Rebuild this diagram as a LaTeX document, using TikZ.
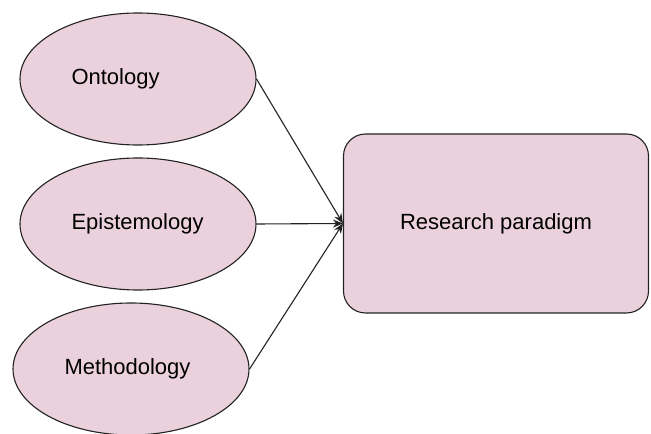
\documentclass[tikz,border=0pt]{standalone}
\usepackage{fontspec}
\setmainfont{Liberation Sans}
\usepackage{xcolor}
\definecolor{cp}{HTML}{EAD1DC}
\definecolor{ck}{HTML}{222222}
\usepackage{tikz}
\usetikzlibrary{arrows.meta,positioning,shapes.geometric}

\begin{document}
\begin{tikzpicture}[
  x=1pt, y=1pt, >={Stealth[length=10pt,width=8pt]}, line width=1.1pt,
  concept/.style={ellipse, draw=ck, fill=cp, minimum width=236pt, minimum height=132pt,
    text width=133pt, align=left, font=\fontsize{22}{26}\selectfont},
  outcome/.style={rectangle, rounded corners=22pt, draw=ck, fill=cp, minimum width=305pt,
    minimum height=179pt, font=\fontsize{22}{26}\selectfont},
]
  \useasboundingbox (0,0) rectangle (651,434);
  \node[concept] (onto) at (138,355) {Ontology};
  \node[concept] (epis) at (138,210) {Epistemology};
  \node[concept] (meth) at (131,65) {Methodology};
  \node[outcome] (para) at (496,210.5) {Research paradigm};

  \draw[->, ck] (onto.east) -- (para.west);
  \draw[->, ck] (epis.east) -- (para.west);
  \draw[->, ck] (meth.east) -- (para.west);
\end{tikzpicture}
\end{document}
